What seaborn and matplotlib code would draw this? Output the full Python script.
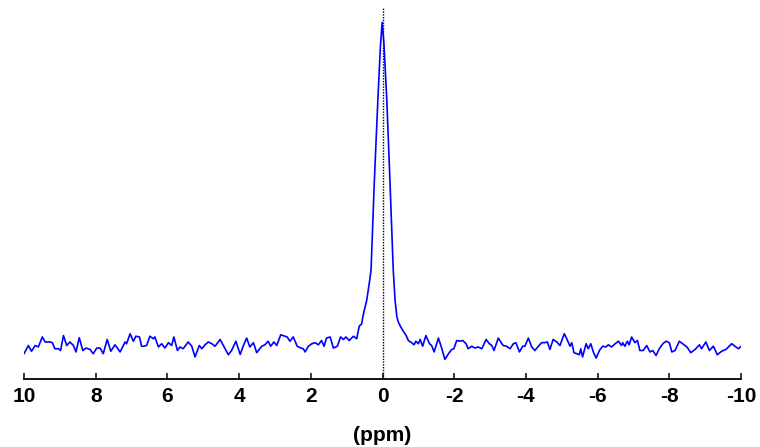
import numpy as np
import pandas as pd
import matplotlib
matplotlib.use("Agg")
import matplotlib.pyplot as plt
import seaborn as sns

# Chemical shift (ppm) and intensity (arbitrary units, peak = 100)
ppm = [
    10.00, 9.88, 9.79, 9.69, 9.60, 9.49, 9.41, 9.27, 9.21, 9.14, 9.04, 8.98, 8.90, 8.81,
    8.72, 8.62, 8.55, 8.46, 8.36, 8.27, 8.16, 8.07, 7.97, 7.88, 7.79, 7.68, 7.58, 7.46,
    7.32, 7.18, 7.14, 7.04, 6.95, 6.88, 6.78, 6.72, 6.67, 6.58, 6.49, 6.39, 6.35, 6.25,
    6.16, 6.07, 5.97, 5.88, 5.82, 5.72, 5.65, 5.56, 5.42, 5.32, 5.23, 5.11, 5.04, 4.95,
    4.86, 4.76, 4.67, 4.53, 4.39, 4.30, 4.21, 4.09, 3.97, 3.88, 3.79, 3.70, 3.60, 3.51,
    3.37, 3.28, 3.19, 3.12, 3.03, 2.95, 2.84, 2.72, 2.66, 2.58, 2.49, 2.38, 2.28, 2.21,
    2.16, 2.07, 1.97, 1.88, 1.79, 1.70, 1.63, 1.56, 1.46, 1.37, 1.26, 1.17, 1.09, 1.02,
    0.93, 0.81, 0.72, 0.65, 0.58, 0.54, 0.44, 0.37, 0.32, 0.23, 0.13, 0.06, 0.01,
    -0.04, -0.12, -0.21, -0.30, -0.35, -0.40, -0.44, -0.51, -0.58, -0.66, -0.72,
    -0.81, -0.88, -0.93, -1.00, -1.05, -1.12, -1.21, -1.31, -1.37, -1.44, -1.56, -1.65,
    -1.74, -1.84, -1.93, -1.99, -2.07, -2.16, -2.24, -2.33, -2.39, -2.49, -2.58, -2.67,
    -2.77, -2.89, -2.98, -3.05, -3.11, -3.23, -3.33, -3.37, -3.46, -3.56, -3.65, -3.72,
    -3.82, -3.91, -3.97, -4.07, -4.16, -4.25, -4.35, -4.44, -4.53, -4.60, -4.67, -4.76,
    -4.86, -4.95, -5.07, -5.14, -5.23, -5.28, -5.34, -5.42, -5.49, -5.53, -5.58, -5.68,
    -5.74, -5.81, -5.88, -5.96, -6.05, -6.14, -6.23, -6.30, -6.39, -6.49, -6.58, -6.67,
    -6.70, -6.76, -6.83, -6.88, -6.95, -7.04, -7.11, -7.18, -7.27, -7.37, -7.46, -7.54,
    -7.63, -7.72, -7.82, -7.91, -8.00, -8.07, -8.16, -8.28, -8.37, -8.49, -8.60, -8.72,
    -8.84, -8.90, -9.02, -9.12, -9.23, -9.34, -9.46, -9.58, -9.74, -9.83, -9.93, -10.00,
]
intensity = [
    7.1, 9.4, 7.8, 9.4, 9.0, 11.8, 10.4, 10.4, 10.2, 8.5, 8.5, 8.0, 12.2, 9.4,
    10.4, 9.4, 7.6, 11.6, 8.0, 8.7, 8.3, 7.1, 8.7, 8.7, 7.1, 11.1, 7.8, 9.6,
    7.6, 10.4, 9.9, 12.7, 10.6, 12.0, 11.8, 9.2, 9.2, 9.4, 12.0, 11.3, 11.8, 9.0,
    9.9, 8.7, 10.2, 9.4, 11.8, 8.0, 9.0, 8.5, 10.4, 9.2, 6.2, 9.4, 8.5, 9.6,
    10.4, 9.9, 9.2, 11.1, 8.5, 6.8, 8.0, 10.6, 6.9, 9.4, 11.5, 9.0, 10.2, 7.4,
    9.2, 9.6, 10.6, 9.2, 10.4, 9.4, 12.4, 12.0, 11.8, 10.6, 11.8, 9.2, 8.7, 8.5,
    7.6, 9.2, 9.9, 10.2, 9.6, 10.8, 9.2, 11.5, 11.8, 8.7, 9.2, 11.8, 11.1, 11.8,
    10.8, 12.0, 11.3, 14.8, 15.5, 17.9, 22.1, 26.8, 30.5, 54.9, 78.2, 93.0, 100.0,
    94.0, 78.2, 54.9, 30.5, 22.1, 17.5, 16.0, 14.6, 13.4, 12.2, 10.8,
    10.2, 9.6, 10.6, 9.9, 11.1, 9.2, 12.2, 9.9, 9.4, 7.6, 11.5, 8.7,
    5.5, 7.1, 8.3, 8.5, 10.8, 10.6, 10.8, 9.9, 8.5, 9.2, 8.7, 9.0,
    8.5, 11.1, 9.9, 9.4, 8.0, 11.5, 9.9, 9.4, 9.2, 8.5, 9.9, 10.2,
    7.6, 9.2, 9.2, 11.5, 9.0, 8.0, 9.2, 10.2, 10.2, 10.4, 8.3, 11.1,
    10.4, 9.4, 12.7, 11.3, 9.2, 10.2, 7.4, 7.1, 6.8, 8.5, 6.2, 9.9,
    8.5, 9.9, 7.6, 5.9, 8.0, 9.2, 9.0, 9.6, 9.0, 9.9, 10.6, 9.4,
    10.2, 9.2, 10.6, 9.6, 11.8, 10.2, 10.8, 8.0, 8.0, 9.4, 7.6, 8.0,
    6.6, 8.5, 9.9, 10.6, 10.2, 7.6, 8.0, 10.6, 9.9, 9.0, 7.4, 8.3,
    9.6, 8.5, 10.4, 8.0, 9.2, 6.8, 7.8, 8.3, 9.9, 9.2, 8.5, 9.2,
]
tick_values = [10, 8, 6, 4, 2, 0, -2, -4, -6, -8, -10]
tick_labels = ["10", "8", "6", "4", "2", "0", "-2", "-4", "-6", "-8", "-10"]
x_label = "(ppm)"

df = pd.DataFrame({"ppm": ppm, "intensity": intensity})

sns.set_style("white")
plt.rcParams["font.family"] = ["Liberation Sans", "DejaVu Sans"]
plt.rcParams["text.color"] = "black"
plt.rcParams["xtick.color"] = "black"
plt.rcParams["axes.labelcolor"] = "black"

fig = plt.figure(figsize=(7.6, 4.47), dpi=100)
ax = fig.add_axes([0.0316, 0.152, 0.9434, 0.83])

sns.lineplot(data=df, x="ppm", y="intensity", sort=False, color="#0000ff",
             linewidth=1.2, ax=ax, estimator=None)
ax.axvline(0, color="black", linestyle=(0, (1, 1)), linewidth=1.0, zorder=1)

ax.set_xlim(10, -10)
ax.set_ylim(0, 104)
ax.set_xticks(tick_values)
ax.set_xticklabels(tick_labels, fontsize=15, fontweight="bold")
ax.set_yticks([])
ax.set_ylabel("")
ax.set_xlabel(x_label, fontsize=15, fontweight="bold", labelpad=14)

for side in ["top", "left", "right"]:
    ax.spines[side].set_visible(False)
ax.spines["bottom"].set_linewidth(1.3)
ax.spines["bottom"].set_color("black")
ax.tick_params(axis="x", direction="in", length=4, width=1.1, pad=6,
               color="black", labelcolor="black", bottom=True)

fig.savefig("out.png", dpi=100)
